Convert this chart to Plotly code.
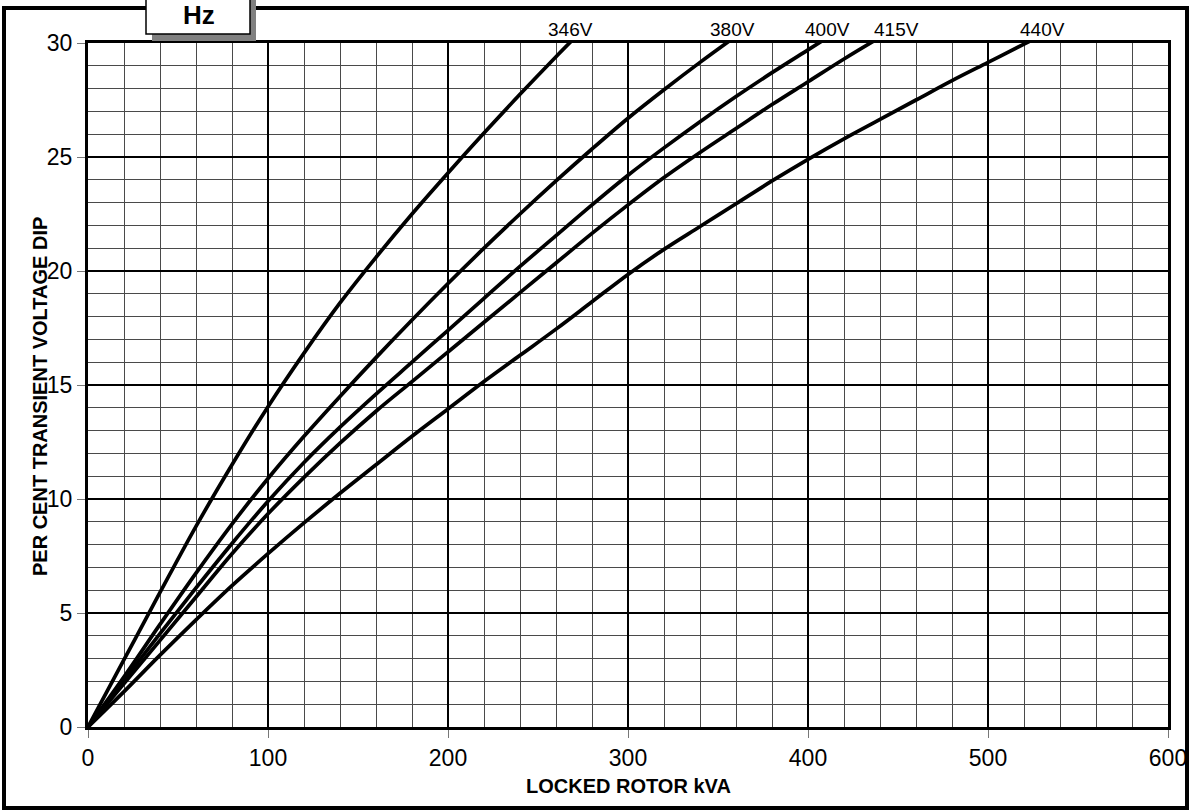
import plotly.graph_objects as go

# ---- data ----
x_346 = [0, 20, 40, 60, 80, 100, 120, 140, 160, 180, 200, 220, 240, 260, 270]
y_346 = [0, 2.95, 5.9, 8.8, 11.5, 14.05, 16.4, 18.6, 20.6, 22.5, 24.3, 26.05, 27.75, 29.4, 30.2]

x_380 = [0, 20, 40, 60, 80, 100, 120, 140, 160, 180, 200, 220, 240, 260, 280, 300, 320, 340, 360]
y_380 = [0, 2.2, 4.5, 6.75, 8.9, 10.9, 12.75, 14.5, 16.2, 17.85, 19.45, 21.0, 22.5, 23.95, 25.35, 26.7, 27.95, 29.15, 30.3]

x_400 = [0, 20, 40, 60, 80, 100, 120, 140, 160, 180, 200, 220, 240, 260, 280, 300, 320, 340, 360, 380, 400, 410]
y_400 = [0, 2.05, 4.1, 6.1, 8.05, 9.9, 11.6, 13.15, 14.6, 16.0, 17.4, 18.8, 20.2, 21.55, 22.9, 24.2, 25.4, 26.55, 27.65, 28.7, 29.7, 30.2]

x_415 = [0, 20, 40, 60, 80, 100, 120, 140, 160, 180, 200, 220, 240, 260, 280, 300, 320, 340, 360, 380, 400, 420, 440]
y_415 = [0, 1.9, 3.8, 5.7, 7.6, 9.35, 10.95, 12.45, 13.85, 15.15, 16.45, 17.75, 19.05, 20.35, 21.65, 22.9, 24.1, 25.2, 26.25, 27.3, 28.3, 29.3, 30.25]

x_440 = [0, 20, 40, 60, 80, 100, 120, 140, 160, 180, 200, 220, 240, 260, 280, 300, 320, 340, 360, 380, 400, 420, 440, 460, 480, 500, 520, 530]
y_440 = [0, 1.55, 3.15, 4.7, 6.2, 7.6, 8.95, 10.25, 11.5, 12.75, 13.95, 15.15, 16.3, 17.45, 18.65, 19.85, 20.95, 21.95, 22.95, 23.95, 24.9, 25.8, 26.65, 27.5, 28.35, 29.15, 29.95, 30.35]

series_names = ["346V", "380V", "400V", "415V", "440V"]
series_x = [x_346, x_380, x_400, x_415, x_440]
series_y = [y_346, y_380, y_400, y_415, y_440]
label_x = [268, 358, 411, 449, 530]

x_ticks = [0, 100, 200, 300, 400, 500, 600]
y_ticks = [0, 5, 10, 15, 20, 25, 30]

x_title = "LOCKED ROTOR kVA"
y_title = "PER CENT TRANSIENT VOLTAGE DIP"
box_title = "Hz"

# ---- layout geometry ----
W, H = 1191, 811
L, R, T, B = 88, 23, 43, 84
PW, PH = W - L - R, H - T - B


def px(xp):
    return (xp - L) / PW


def py(yp):
    return (H - B - yp) / PH


FONT = "Liberation Sans, Arial, sans-serif"

fig = go.Figure()
for name, xs, ys in zip(series_names, series_x, series_y):
    fig.add_trace(go.Scatter(x=xs, y=ys, mode="lines", name=name,
                             line=dict(color="black", width=3.7, shape="spline", smoothing=1.0),
                             showlegend=False, hoverinfo="x+y+name"))

annotations = []
for name, lx in zip(series_names, label_x):
    annotations.append(dict(x=lx, xref="x", y=py(30), yref="paper", text=name,
                            showarrow=False, xanchor="center", yanchor="middle",
                            font=dict(family=FONT, size=19, color="black")))

annotations.append(dict(x=0.5, xref="paper", y=py(786), yref="paper", text="<b>%s</b>" % x_title,
                        showarrow=False, xanchor="center", yanchor="middle",
                        font=dict(family=FONT, size=20, color="black")))
annotations.append(dict(x=px(40), xref="paper", y=py(397), yref="paper", text="<b>%s</b>" % y_title,
                        showarrow=False, xanchor="center", yanchor="middle", textangle=-90,
                        font=dict(family=FONT, size=20, color="black")))
annotations.append(dict(x=px(199), xref="paper", y=py(15), yref="paper", text="<b>%s</b>" % box_title,
                        showarrow=False, xanchor="center", yanchor="middle",
                        font=dict(family=FONT, size=26, color="black")))

frame = dict(color="black", width=4)
shapes = [
    # outer frame as four lines
    dict(type="line", xref="paper", yref="paper", x0=px(2), x1=px(1189), y0=py(8), y1=py(8), line=frame, layer="above"),
    dict(type="line", xref="paper", yref="paper", x0=px(2), x1=px(1189), y0=py(808), y1=py(808), line=frame, layer="above"),
    dict(type="line", xref="paper", yref="paper", x0=px(4), x1=px(4), y0=py(6), y1=py(810), line=frame, layer="above"),
    dict(type="line", xref="paper", yref="paper", x0=px(1187), x1=px(1187), y0=py(6), y1=py(810), line=frame, layer="above"),
    # Hz box shadow
    dict(type="rect", xref="paper", yref="paper", x0=px(152), x1=px(256), y0=py(-10), y1=py(41),
         line=dict(width=0), fillcolor="#808080", layer="above"),
    # Hz box
    dict(type="rect", xref="paper", yref="paper", x0=px(146), x1=px(250), y0=py(-10), y1=py(34),
         line=dict(color="black", width=1.5), fillcolor="white", layer="above"),
]

axis_common = dict(showline=True, linecolor="black", linewidth=3, mirror=True,
                   ticks="outside", ticklen=8, tickwidth=1, tickcolor="#777777",
                   showgrid=True, gridcolor="black", gridwidth=2, zeroline=False,
                   tickfont=dict(family=FONT, size=23, color="black"))

fig.update_layout(
    width=W, height=H,
    margin=dict(l=L, r=R, t=T, b=B, autoexpand=False),
    paper_bgcolor="white", plot_bgcolor="white",
    xaxis=dict(range=[0, 600], tickvals=x_ticks, ticktext=[str(v) for v in x_ticks],
               minor=dict(dtick=20, tick0=0, showgrid=True, gridcolor="#4a4a4a", gridwidth=1.3, ticks=""),
               **axis_common),
    yaxis=dict(range=[0, 30], tickvals=y_ticks, ticktext=[str(v) for v in y_ticks],
               minor=dict(dtick=1, tick0=0, showgrid=True, gridcolor="#4a4a4a", gridwidth=1.3, ticks=""),
               **axis_common),
    annotations=annotations,
    shapes=shapes,
)

fig.write_html("out.html", config={"displayModeBar": False},
               post_script="document.body.style.margin='0px';document.body.style.overflow='hidden';")
